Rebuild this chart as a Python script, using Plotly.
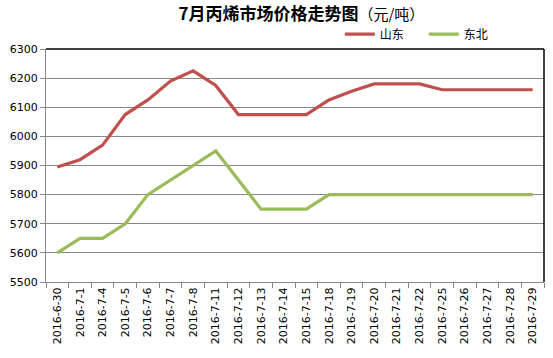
import plotly.graph_objects as go

dates = ["2016-6-30", "2016-7-1", "2016-7-4", "2016-7-5", "2016-7-6", "2016-7-7", "2016-7-8",
         "2016-7-11", "2016-7-12", "2016-7-13", "2016-7-14", "2016-7-15", "2016-7-18", "2016-7-19",
         "2016-7-20", "2016-7-21", "2016-7-22", "2016-7-25", "2016-7-26", "2016-7-27", "2016-7-28",
         "2016-7-29"]
shandong = [5895, 5920, 5970, 6075, 6125, 6190, 6225, 6175, 6075, 6075, 6075, 6075, 6125, 6155,
            6180, 6180, 6180, 6160, 6160, 6160, 6160, 6160]
dongbei = [5600, 5650, 5650, 5700, 5800, 5850, 5900, 5950, 5850, 5750, 5750, 5750, 5800, 5800,
           5800, 5800, 5800, 5800, 5800, 5800, 5800, 5800]
y_ticks = [5500, 5600, 5700, 5800, 5900, 6000, 6100, 6200, 6300]

fig = go.Figure()
fig.add_trace(go.Scatter(x=dates, y=shandong, name="山东", mode="lines",
                         line=dict(color="#C0504D", width=3.2)))
fig.add_trace(go.Scatter(x=dates, y=dongbei, name="东北", mode="lines",
                         line=dict(color="#9BBB59", width=3.2)))

fig.update_layout(
    width=553, height=358,
    margin=dict(l=46, r=9, t=49, b=76, autoexpand=False),
    paper_bgcolor="white", plot_bgcolor="white",
    font=dict(family="DejaVu Sans, Verdana, sans-serif", size=11, color="black"),
    title=dict(
        text="<b>7月丙烯市场价格走势图</b><span style='font-size:15px'>（元/吨）</span>",
        x=0.545, xanchor="center", y=0.962, yanchor="middle",
        font=dict(family="Noto Sans CJK SC", size=17, color="black"),
    ),
    legend=dict(orientation="h", x=0.59, xanchor="left", y=1.064, yanchor="middle",
                font=dict(family="Noto Sans CJK SC", size=12, color="black"),
                bgcolor="rgba(0,0,0,0)", entrywidth=39, itemwidth=30),
    showlegend=True,
)
fig.update_xaxes(
    type="category", range=[-0.5, len(dates) - 0.5], tickangle=-90, showgrid=False,
    showline=True, linecolor="#868686",
    linewidth=1, mirror=False, ticks="outside", ticklen=5, tickcolor="#868686",
    tickson="boundaries", tickfont=dict(size=11), automargin=False,
)
fig.update_yaxes(
    range=[5500, 6300], tickvals=y_ticks, showgrid=True, gridcolor="#868686", gridwidth=1,
    showline=True, linecolor="#868686", linewidth=1, ticks="outside", ticklen=5,
    tickcolor="#868686", zeroline=False, tickfont=dict(size=11), automargin=False,
)
# top and right border of the plot area
fig.add_shape(type="line", xref="paper", yref="paper", x0=0, x1=1, y0=1, y1=1,
              line=dict(color="black", width=1.5))
fig.add_shape(type="line", xref="paper", yref="paper", x0=1, x1=1, y0=0, y1=1,
              line=dict(color="black", width=1.5))

fig.write_html("out.html", config={"displayModeBar": False},
               post_script="document.body.style.margin='0';document.body.style.overflow='hidden';")
